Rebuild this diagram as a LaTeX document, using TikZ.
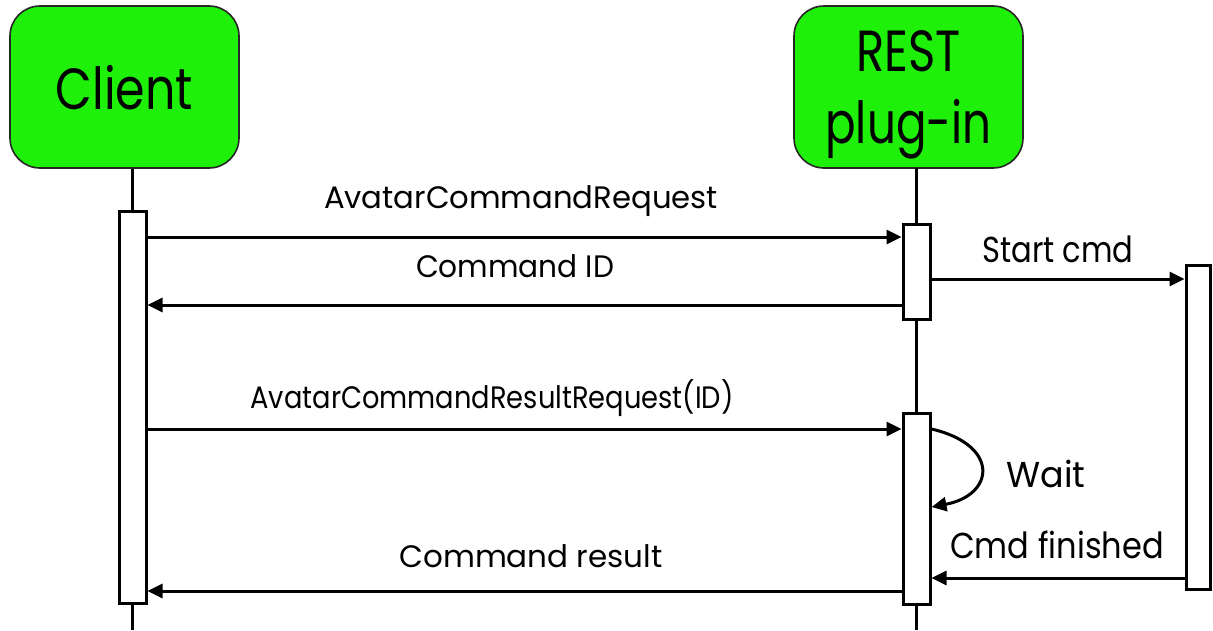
\documentclass[tikz,border=0pt]{standalone}
\usepackage{fontspec}
\setmainfont{Poppins}
\usetikzlibrary{arrows.meta,calc}
\definecolor{partgreen}{RGB}{30,240,10}
% horizontally condensed text
\newcommand\narrow[2]{\scalebox{#1}[1]{#2}}
\tikzset{
  participant/.style={draw=black!85, line width=1.6pt, fill=partgreen, rounded corners=30pt,
    minimum width=229pt, minimum height=162pt, inner sep=0pt, align=center,
    font=\fontsize{58}{72}\selectfont},
  activation/.style={draw, line width=3pt, fill=white, minimum width=27pt, inner sep=0pt},
  lifeline/.style={line width=3pt},
  msg/.style={line width=3pt, -{Triangle[length=15pt,width=14pt]}},
  msglabel/.style={font=\fontsize{31}{36}\selectfont, inner sep=0pt, anchor=base},
  sidelabel/.style={font=\fontsize{36}{40}\selectfont, inner sep=0pt, anchor=base}
}
\begin{document}
\begin{tikzpicture}[x=1pt,y=-1pt]
\useasboundingbox (0,0) rectangle (1213,630);
% participants
\node[participant, text depth=0pt] (client) at (124.5,87) {\narrow{0.82}{Client}};
\node[participant, text depth=-5pt] (rest) at (908.5,87)
  {\narrow{0.8}{REST}\\\narrow{0.78}{plug-in}};
% activation bars
\node[activation, minimum height=392pt] (ca) at (132.5,407) {};
\node[activation, minimum height=95pt] (ra1) at (916.5,271.5) {};
\node[activation, minimum height=191pt] (ra2) at (916.5,508.5) {};
\node[activation, minimum height=324pt, minimum width=24pt] (ea) at (1198,427) {};
% lifeline ends
\coordinate (cend) at (132.5,630);
\coordinate (rtop) at (916.5,168);
\coordinate (rend) at (916.5,630);
% lifelines
\draw[lifeline] (client.south -| ca.north) -- (ca.north);
\draw[lifeline] (ca.south) -- (cend);
\draw[lifeline] (rtop) -- (ra1.north);
\draw[lifeline] (ra1.south) -- (ra2.north);
\draw[lifeline] (ra2.south) -- (rend);
% messages
\draw[msg] (ca.east |- 0,237) -- (ra1.west |- 0,237);
\node[msglabel] (l1) at (521,208) {\narrow{0.99}{AvatarCommandRequest}};
\draw[msg] (ra1.west |- 0,305) -- (ca.east |- 0,305);
\node[msglabel] (l2) at (515,277) {\narrow{0.955}{Command ID}};
\draw[msg] (ra1.east |- 0,279) -- (ea.west |- 0,279);
\node[sidelabel] (l3) at (1058,262) {\narrow{0.85}{Start cmd}};
\draw[msg] (ca.east |- 0,429) -- (ra2.west |- 0,429);
\node[msglabel] (l4) at (492,408) {\narrow{0.88}{AvatarCommandResultRequest(ID)}};
\draw[msg] (ra2.east |- 0,429) .. controls (1000,445) and (995,495) .. (ra2.east |- 0,507);
\node[sidelabel] (l5) at (1046,487) {\narrow{0.97}{Wait}};
\draw[msg] (ea.west |- 0,578) -- (ra2.east |- 0,578);
\node[sidelabel] (l6) at (1057,558) {\narrow{0.89}{Cmd finished}};
\draw[msg] (ra2.west |- 0,591) -- (ca.east |- 0,591);
\node[msglabel] (l7) at (531,567) {Command result};
\end{tikzpicture}
\end{document}
